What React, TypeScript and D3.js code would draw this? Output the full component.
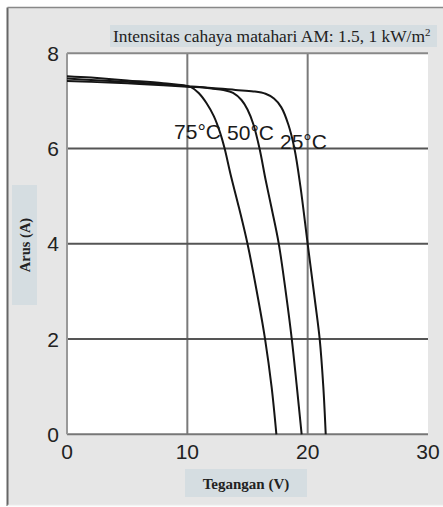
import React from "react";
import * as d3 from "d3";

const xTicks = [0, 10, 20, 30];
const yTicks = [0, 2, 4, 6, 8];

const v25 = [0, 2, 5, 8, 10, 12, 14, 15.5, 16.5, 17.2, 17.8, 18.4, 18.9, 19.4, 20.0, 20.6, 21.0, 21.3, 21.5];
const i25 = [7.42, 7.40, 7.37, 7.33, 7.30, 7.27, 7.23, 7.20, 7.15, 7.05, 6.87, 6.5, 6.0, 5.2, 4.0, 2.82, 2.0, 1.0, 0];

const v50 = [0, 2, 5, 8, 10, 11, 12, 13, 13.8, 14.5, 15.0, 15.5, 16.0, 16.5, 17.0, 17.6, 18.2, 18.68, 19.1, 19.5];
const i50 = [7.47, 7.44, 7.40, 7.35, 7.31, 7.29, 7.26, 7.23, 7.17, 7.02, 6.82, 6.5, 6.0, 5.35, 4.75, 4.0, 2.95, 2.0, 1.0, 0];

const v75 = [0, 2, 5, 8, 10.3, 11.0, 11.6, 12.2, 12.7, 13.1, 13.6, 14.3, 15.0, 15.9, 16.46, 17.0, 17.4];
const i75 = [7.52, 7.49, 7.43, 7.37, 7.29, 7.15, 6.95, 6.68, 6.35, 6.0, 5.45, 4.75, 4.0, 2.82, 2.0, 1.0, 0];

const seriesLabels = ["75°C", "50°C", "25°C"];
const labelV = [8.9, 13.3, 17.7];
const labelI = [6.2, 6.17, 6.0];

export default function App() {
  const W = 443, H = 507;
  const x = d3.scaleLinear().domain([0, 30]).range([67, 428]);
  const y = d3.scaleLinear().domain([0, 8]).range([434.3, 53.3]);
  const line = d3
    .line<[number, number]>()
    .x((d) => x(d[0]))
    .y((d) => y(d[1]))
    .curve(d3.curveCatmullRom.alpha(0.5));
  const series = [
    { v: v75, i: i75 },
    { v: v50, i: i50 },
    { v: v25, i: i25 },
  ];
  const sans = "'Liberation Sans', Arial, sans-serif";
  const serif = "'Liberation Serif', 'Times New Roman', serif";
  return (
    <svg width={W} height={H} style={{ position: "absolute", left: 0, top: 0 }}>
      <rect x={0} y={0} width={W} height={H} fill="#ffffff" />
      <rect x={7.5} y={7.5} width={W} height={497.5} fill="#e6e6e6" />
      <line x1={7.5} y1={7.5} x2={7.5} y2={506} stroke="#666" strokeWidth={2} />
      <line x1={7.5} y1={7.5} x2={W} y2={7.5} stroke="#888" strokeWidth={1.5} />
      <line x1={7.5} y1={505.5} x2={W} y2={505.5} stroke="#f4f4f4" strokeWidth={1.5} />
      {/* plot area */}
      <rect x={x(0)} y={y(8)} width={x(30) - x(0)} height={y(0) - y(8)} fill="#ffffff" />
      {/* vertical grid */}
      {[10, 20].map((t) => (
        <line key={"vx" + t} x1={x(t)} x2={x(t)} y1={y(8)} y2={y(0)} stroke="#7a7a7a" strokeWidth={2} />
      ))}
      {[2, 4, 6].map((t) => (
        <line key={"hy" + t} x1={x(0)} x2={x(30)} y1={y(t)} y2={y(t)} stroke="#555" strokeWidth={2} />
      ))}
      <line x1={x(0)} x2={x(30)} y1={y(8)} y2={y(8)} stroke="#888" strokeWidth={2} />
      <line x1={x(0)} x2={x(30)} y1={y(0)} y2={y(0)} stroke="#777" strokeWidth={2} />
      <line x1={x(0)} x2={x(0)} y1={y(8)} y2={y(0)} stroke="#999" strokeWidth={2} />
      {/* curves */}
      {series.map((s, k) => (
        <path
          key={"s" + k}
          d={line(s.v.map((vv, j) => [vv, s.i[j]] as [number, number])) || ""}
          fill="none"
          stroke="#151515"
          strokeWidth={2}
        />
      ))}
      {/* curve labels */}
      {seriesLabels.map((lab, k) => (
        <text key={"l" + k} x={x(labelV[k])} y={y(labelI[k])} fontFamily={sans} fontSize={21} fill="#1a1a1a">
          {lab}
        </text>
      ))}
      {/* tick labels */}
      {xTicks.map((t) => (
        <text key={"xt" + t} x={x(t)} y={459} textAnchor="middle" fontFamily={sans} fontSize={21} fill="#222">
          {t}
        </text>
      ))}
      {yTicks.map((t) => (
        <text key={"yt" + t} x={59} y={y(t)} dy="0.36em" textAnchor="end" fontFamily={sans} fontSize={21} fill="#222">
          {t}
        </text>
      ))}
      {/* title box */}
      <rect x={110} y={25} width={327} height={22} fill="#d5dde1" />
      <text x={113} y={42} fontFamily={serif} fontSize={17.4} fill="#222">
        Intensitas cahaya matahari AM: 1.5, 1 kW/m
        <tspan dy={-6} fontSize={11}>2</tspan>
      </text>
      {/* y label box */}
      <rect x={12} y={185} width={25} height={120} fill="#d5dde1" />
      <text
        transform="translate(30,245) rotate(-90)"
        textAnchor="middle"
        fontFamily={serif}
        fontWeight="bold"
        fontSize={14.5}
        fill="#222"
      >
        Arus (A)
      </text>
      {/* x label box */}
      <rect x={185} y={469} width={122} height={28} fill="#d5dde1" />
      <text x={246} y={489} textAnchor="middle" fontFamily={serif} fontWeight="bold" fontSize={15} fill="#222">
        Tegangan (V)
      </text>
    </svg>
  );
}
